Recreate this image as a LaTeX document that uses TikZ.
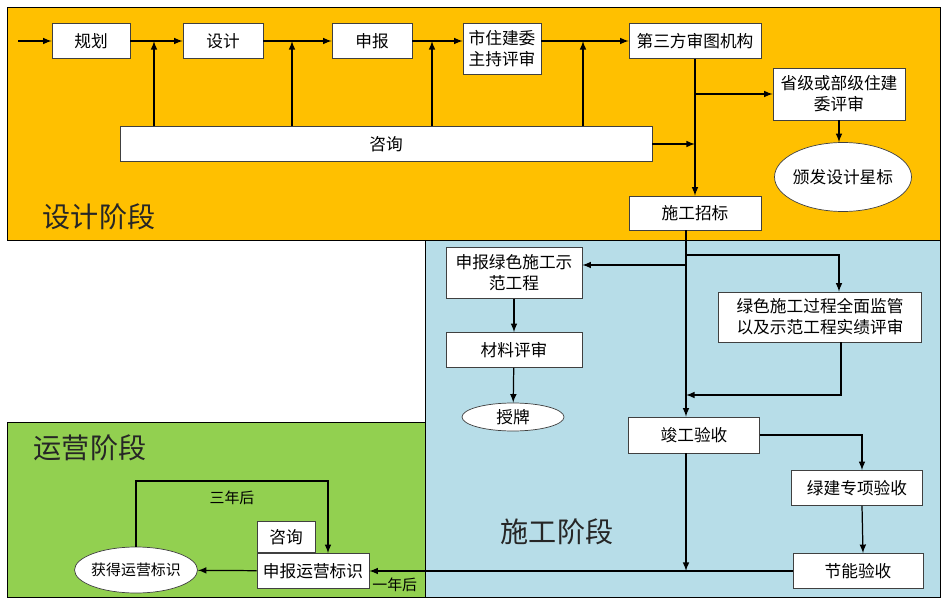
\documentclass[tikz,border=0pt]{standalone}
\usepackage{fontspec}
\setmainfont{Noto Sans CJK SC}
\usepackage{xcolor}
\usepackage{tikz}
\usetikzlibrary{shapes.geometric, arrows, positioning}
\definecolor{designyellow}{RGB}{255,192,0}
\definecolor{buildblue}{RGB}{183,221,232}
\definecolor{operategreen}{RGB}{146,208,80}

\begin{document}
\begin{tikzpicture}[
    x=0.02cm, y=-0.02cm,
    box/.style={rectangle, draw=black!75, fill=white, minimum width=2.64cm, minimum height=0.7cm, align=center, inner sep=1pt, font=\fontsize{9.5}{12}\selectfont},
    oval/.style={ellipse, draw=black!75, fill=white, inner xsep=-1pt, inner ysep=0pt, font=\fontsize{9.5}{12}\selectfont},
    stage/.style={font=\fontsize{16}{18}\selectfont, text=black!85},
    lbl/.style={font=\fontsize{8.5}{10}\selectfont},
    arrow/.style={->, >=latex, line width=0.7pt}
]
    \useasboundingbox (0,0) rectangle (946,601);

    % phase areas
    \draw[fill=designyellow] (7,7) rectangle (940,240);
    \draw[fill=buildblue] (425,240) rectangle (940,597);
    \draw[fill=operategreen] (7,422) rectangle (425,597);

    \node[stage] (stageA) at (99,217) {设计阶段};
    \node[stage] (stageB) at (557,532) {施工阶段};
    \node[stage] (stageC) at (90,448) {运营阶段};

    % design phase
    \node[box, minimum width=1.56cm] (guihua) at (91,41) {规划};
    \node[box, minimum width=1.6cm] (sheji) at (223,41) {设计};
    \node[box, minimum width=1.6cm] (shenbao) at (372,41) {申报};
    \node[box, minimum width=1.56cm, minimum height=1.02cm] (shizhu) at (502,49) {市住建委\\主持评审};
    \node[box] (disanfang) at (695,41) {第三方审图机构};
    \node[box, minimum height=1.04cm] (shengji) at (839,94) {省级或部级住建\\委评审};
    \node[oval, minimum width=2.74cm, minimum height=1.38cm] (banfa) at (843,177) {颁发设计星标};
    \node[box, minimum height=0.68cm] (zhaobiao) at (695,213) {施工招标};
    \node[box, minimum width=10.64cm] (zixun) at (386,144) {咨询};

    \coordinate (start) at (18,41);
    \coordinate (j1) at (154,41);
    \coordinate (j2) at (292,41);
    \coordinate (j3) at (432,41);
    \coordinate (j4) at (583,41);

    \draw[arrow] (start) -- (guihua);
    \draw[arrow] (guihua) -- (sheji);
    \draw[arrow] (sheji) -- (shenbao);
    \draw[arrow] (shenbao.east) -- (shenbao.east -| shizhu.west);
    \draw[arrow] (shizhu.east |- disanfang.west) -- (disanfang.west);
    \draw[arrow] (zixun.north -| j1) -- (j1);
    \draw[arrow] (zixun.north -| j2) -- (j2);
    \draw[arrow] (zixun.north -| j3) -- (j3);
    \draw[arrow] (zixun.north -| j4) -- (j4);
    \draw[arrow] (disanfang) -- (zhaobiao);
    \draw[arrow] (disanfang.south |- shengji.west) -- (shengji.west);
    \draw[arrow] (zixun.east) -- (zixun.east -| disanfang.south);
    \draw[arrow] (shengji.south) -- (shengji.south |- banfa.north);

    % construction phase
    \node[box, minimum width=2.72cm, minimum height=1.02cm] (shenbaolv) at (514,273) {申报绿色施工示\\范工程};
    \node[box, minimum width=2.72cm] (cailiao) at (514,350) {材料评审};
    \node[oval, minimum width=2.04cm, minimum height=0.56cm] (shoupai) at (513,417) {授牌};
    \node[box, minimum width=4.06cm, minimum height=1.0cm] (jiandu) at (820,317) {绿色施工过程全面监管\\以及示范工程实绩评审};
    \node[box, minimum width=2.62cm, minimum height=0.72cm] (jungong) at (694,435) {竣工验收};
    \node[box, minimum width=2.62cm] (lvjian) at (857,488) {绿建专项验收};
    \node[box, minimum width=2.6cm] (jieneng) at (858,571) {节能验收};

    \coordinate (b1) at (686,255);
    \coordinate (b2) at (686,265);
    \coordinate (b3) at (686,395);

    \draw[arrow] (zhaobiao.south -| b1) -- (jungong.north -| b1);
    \draw[arrow] (b2) -- (b2 -| shenbaolv.east);
    \draw[arrow] (b1) -| ([xshift=0.38cm]jiandu.north);
    \draw[arrow] ([xshift=0.42cm]jiandu.south) |- (b3);
    \draw[arrow] (shenbaolv) -- (cailiao);
    \draw[arrow] (cailiao) -- (shoupai);
    \draw[arrow] (jungong.south -| b1) -- (b1 |- jieneng.west);
    \draw[arrow] (jungong.east) -| ([xshift=0.1cm]lvjian.north);
    \draw[arrow] ([xshift=0.1cm]lvjian.south) -- ([xshift=0.1cm]jieneng.north);

    % operation phase
    \node[oval, minimum width=2.46cm, minimum height=0.92cm, font=\fontsize{8.5}{10}\selectfont] (huode) at (136,570) {获得运营标识};
    \node[box, minimum width=2.24cm] (shenbaoyy) at (313,571) {申报运营标识};
    \node[box, minimum width=1.16cm, minimum height=0.62cm, anchor=south west] (zixun2) at (shenbaoyy.north west) {咨询};

    \coordinate (loop) at (328,481);

    \draw[arrow] (jieneng.west) -- node[lbl, pos=0.94, below] (yinian) {一年后} (shenbaoyy.east);
    \draw[arrow] (shenbaoyy) -- (huode);
    \draw[arrow] (huode.north) |- node[lbl, pos=0.75, below=2pt] (sannian) {三年后} (loop) -- (loop |- shenbaoyy.north);
\end{tikzpicture}
\end{document}
